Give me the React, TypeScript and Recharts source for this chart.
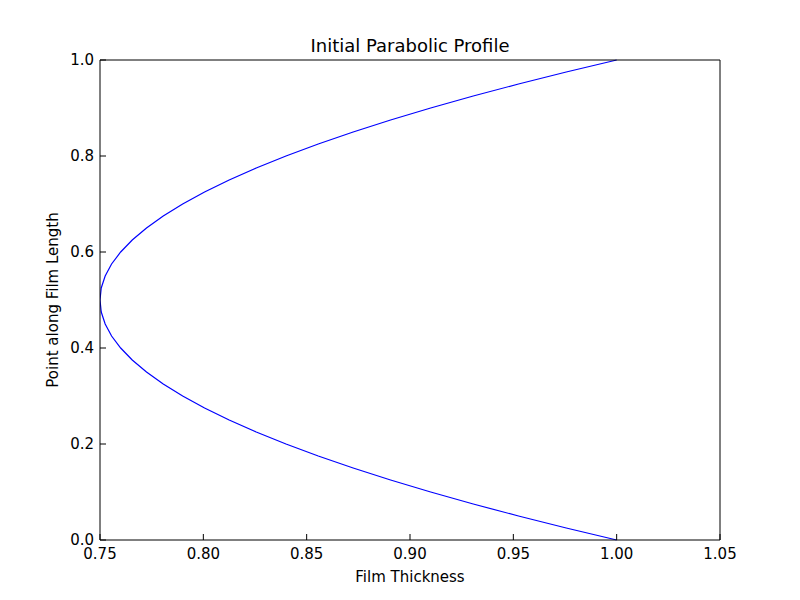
import React from 'react'
import { LineChart, Line, XAxis, YAxis, ReferenceLine } from 'recharts'

// points along film length (y) and thickness (x)
const positions = [0, 0.025, 0.05, 0.075, 0.1, 0.125, 0.15, 0.175, 0.2, 0.225, 0.25, 0.275, 0.3, 0.325, 0.35, 0.375, 0.4, 0.425, 0.45, 0.475, 0.5,
  0.525, 0.55, 0.575, 0.6, 0.625, 0.65, 0.675, 0.7, 0.725, 0.75, 0.775, 0.8, 0.825, 0.85, 0.875, 0.9, 0.925, 0.95, 0.975, 1.0]
const thickness = [1.0, 0.9756, 0.9525, 0.9306, 0.91, 0.8906, 0.8725, 0.8556, 0.84, 0.8256, 0.8125, 0.8006, 0.79, 0.7806, 0.7725, 0.7656, 0.76, 0.7556, 0.7525, 0.7506, 0.75,
  0.7506, 0.7525, 0.7556, 0.76, 0.7656, 0.7725, 0.7806, 0.79, 0.8006, 0.8125, 0.8256, 0.84, 0.8556, 0.8725, 0.8906, 0.91, 0.9306, 0.9525, 0.9756, 1.0]
const xTicks = [0.75, 0.8, 0.85, 0.9, 0.95, 1.0, 1.05]
const yTicks = [0, 0.2, 0.4, 0.6, 0.8, 1.0]

const data = positions.map((p, i) => ({ x: thickness[i], y: p }))
const font = 'DejaVu Sans, sans-serif'
const tickStyle = { fill: '#000', fontSize: 15, fontFamily: font }

export default function App() {
  return (
    <div style={{ position: 'absolute', left: 0, top: 0, width: 800, height: 600, background: '#fff', fontFamily: font }}>
      <LineChart width={800} height={600} data={data} margin={{ top: 50, right: 70, bottom: 30, left: 60 }}>
        <XAxis xAxisId="b" dataKey="x" type="number" domain={[0.75, 1.05]} ticks={xTicks} height={30}
          tickFormatter={(v: number) => v.toFixed(2)} tickSize={-6} tickMargin={14} tick={tickStyle}
          stroke="#000" axisLine={false} allowDataOverflow interval={0} />
        <XAxis xAxisId="t" orientation="top" type="number" domain={[0.75, 1.05]} ticks={xTicks} height={10}
          tick={false} tickSize={-6} stroke="#000" axisLine={false} interval={0} />
        <YAxis yAxisId="l" dataKey="y" type="number" domain={[0, 1]} ticks={yTicks} width={40}
          tickFormatter={(v: number) => v.toFixed(1)} tickSize={-6} tickMargin={12} tick={tickStyle}
          stroke="#000" axisLine={false} interval={0} />
        <YAxis yAxisId="r" orientation="right" type="number" domain={[0, 1]} ticks={yTicks} width={10}
          tick={false} tickSize={-6} stroke="#000" axisLine={false} interval={0} />
        <Line xAxisId="b" yAxisId="l" dataKey="y" type="linear" stroke="#0000ff" strokeWidth={1.2} dot={false} isAnimationActive={false} />
        <ReferenceLine xAxisId="b" yAxisId="l" x={0.75} stroke="#000" />
        <ReferenceLine xAxisId="b" yAxisId="l" x={1.05} stroke="#000" />
        <ReferenceLine xAxisId="b" yAxisId="l" y={0} stroke="#000" />
        <ReferenceLine xAxisId="b" yAxisId="l" y={1} stroke="#000" />
      </LineChart>
      <div style={{ position: 'absolute', top: 35, left: 100, width: 620, textAlign: 'center', fontSize: 18 }}>Initial Parabolic Profile</div>
      <div style={{ position: 'absolute', top: 568, left: 100, width: 620, textAlign: 'center', fontSize: 15 }}>Film Thickness</div>
      <div style={{ position: 'absolute', top: 300, left: 53, width: 0, height: 0 }}>
        <div style={{ position: 'absolute', transform: 'translate(-50%, -50%) rotate(-90deg)', whiteSpace: 'nowrap', fontSize: 15 }}>Point along Film Length</div>
      </div>
    </div>
  )
}
